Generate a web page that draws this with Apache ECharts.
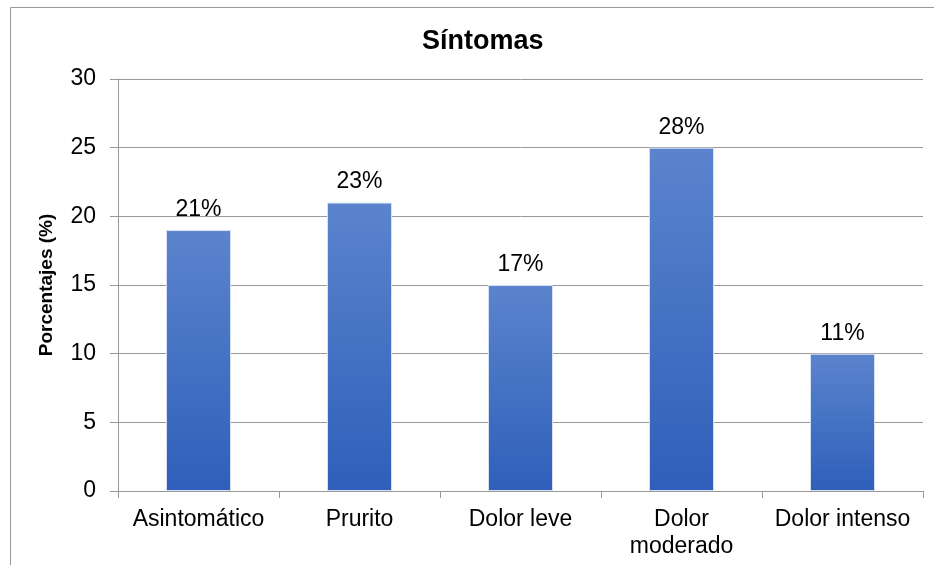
<!DOCTYPE html>
<html>
<head>
<meta charset="utf-8">
<script src="https://cdn.jsdelivr.net/npm/echarts@6/dist/echarts.min.js"></script>
<style>
  html, body { margin: 0; padding: 0; background: #fff; }
  #chart { width: 934px; height: 565px; }
</style>
</head>
<body>
<div id="chart"></div>
<script>
  // data
  const categories = ['Asintomático', 'Prurito', 'Dolor leve', 'Dolor\nmoderado', 'Dolor intenso'];
  const values = [19, 21, 15, 25, 10];
  const percentLabels = ['21%', '23%', '17%', '28%', '11%'];
  const yTicks = {min: 0, max: 30, interval: 5};

  const font = 'Liberation Sans, Arial, sans-serif';
  const chart = echarts.init(document.getElementById('chart'));

  chart.setOption({
    animation: false,
    title: {
      text: 'Síntomas',
      left: 417,
      top: 23,
      textStyle: {fontFamily: font, fontSize: 27, fontWeight: 'bold', color: '#000'}
    },
    grid: {left: 118, right: 11, top: 79, bottom: 74},
    xAxis: {
      type: 'category',
      data: categories,
      axisLine: {lineStyle: {color: '#999', width: 1}},
      axisTick: {show: true, interval: 0, length: 7, lineStyle: {color: '#999'}},
      axisLabel: {interval: 0, hideOverlap: false, fontFamily: font, fontSize: 23, color: '#000', margin: 15, lineHeight: 27}
    },
    yAxis: {
      type: 'value',
      min: yTicks.min,
      max: yTicks.max,
      interval: yTicks.interval,
      name: 'Porcentajes (%)',
      nameLocation: 'middle',
      nameGap: 62,
      nameTextStyle: {fontFamily: font, fontSize: 19, fontWeight: 'bold', color: '#000'},
      axisLine: {show: true, lineStyle: {color: '#999', width: 1}},
      axisTick: {show: true, length: 8, lineStyle: {color: '#999'}},
      axisLabel: {fontFamily: font, fontSize: 23, color: '#000', margin: 22},
      splitLine: {lineStyle: {color: '#999', width: 1}}
    },
    series: [{
      type: 'bar',
      data: values,
      barWidth: 65,
      itemStyle: {
        color: new echarts.graphic.LinearGradient(0, 0, 0, 1, [
          {offset: 0, color: '#5b84cd'},
          {offset: 1, color: '#2f5fba'}
        ]),
        borderColor: '#d6e0f3',
        borderWidth: 1
      },
      label: {
        show: true,
        position: 'top',
        distance: 9,
        fontFamily: font,
        fontSize: 23,
        color: '#000',
        formatter: p => percentLabels[p.dataIndex]
      }
    }],
    graphic: [{
      type: 'polyline',
      shape: {points: [[10.5, 565], [10.5, 7.5], [934, 7.5]]},
      style: {stroke: '#999', lineWidth: 1, fill: null},
      silent: true
    }]
  });
</script>
</body>
</html>
